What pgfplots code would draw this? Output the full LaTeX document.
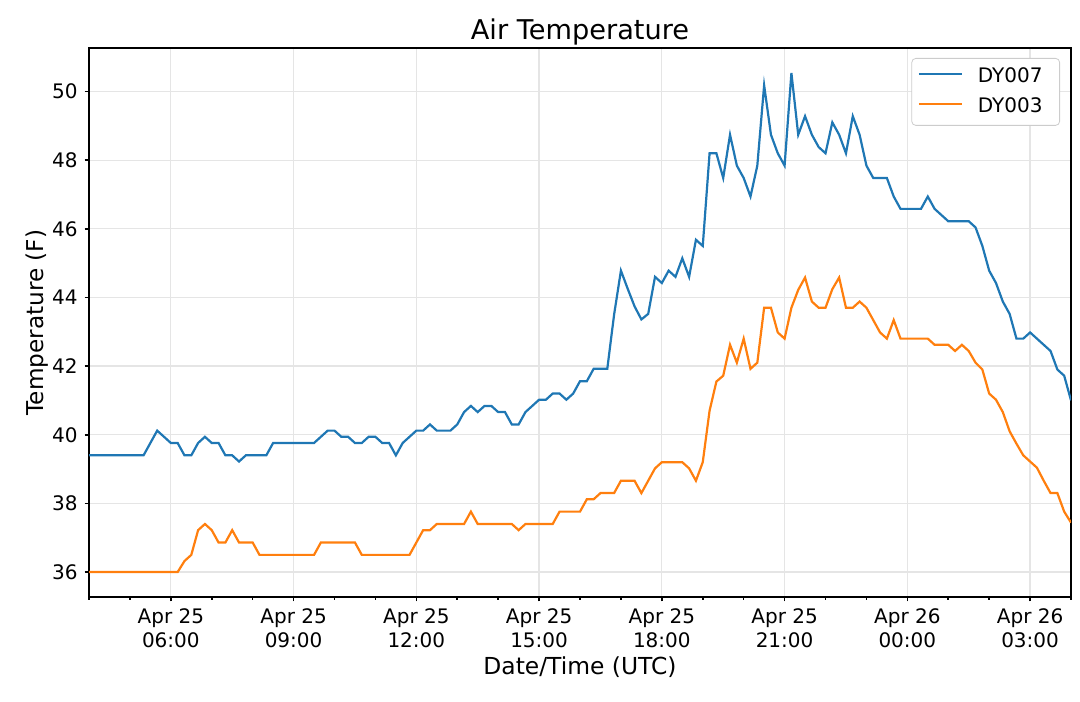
\documentclass[border=0pt]{standalone}
\usepackage{pgfplots}
\usepackage{pgfplotstable}
\pgfplotsset{compat=1.18}
\usepackage{fontspec}
\setmainfont{DejaVu Sans}
\definecolor{tabblue}{RGB}{31,119,180}
\definecolor{taborange}{RGB}{255,127,14}
\pgfplotstableread{
i dyseven dythree
0 39.40 36.00
1 39.40 36.00
2 39.40 36.00
3 39.40 36.00
4 39.40 36.00
5 39.40 36.00
6 39.40 36.00
7 39.40 36.00
8 39.40 36.00
9 39.76 36.00
10 40.12 36.00
11 39.94 36.00
12 39.76 36.00
13 39.76 36.00
14 39.40 36.32
15 39.40 36.50
16 39.76 37.22
17 39.94 37.40
18 39.76 37.22
19 39.76 36.86
20 39.40 36.86
21 39.40 37.22
22 39.22 36.86
23 39.40 36.86
24 39.40 36.86
25 39.40 36.50
26 39.40 36.50
27 39.76 36.50
28 39.76 36.50
29 39.76 36.50
30 39.76 36.50
31 39.76 36.50
32 39.76 36.50
33 39.76 36.50
34 39.94 36.86
35 40.12 36.86
36 40.12 36.86
37 39.94 36.86
38 39.94 36.86
39 39.76 36.86
40 39.76 36.50
41 39.94 36.50
42 39.94 36.50
43 39.76 36.50
44 39.76 36.50
45 39.40 36.50
46 39.76 36.50
47 39.94 36.50
48 40.12 36.86
49 40.12 37.22
50 40.30 37.22
51 40.12 37.40
52 40.12 37.40
53 40.12 37.40
54 40.30 37.40
55 40.66 37.40
56 40.84 37.76
57 40.66 37.40
58 40.84 37.40
59 40.84 37.40
60 40.66 37.40
61 40.66 37.40
62 40.30 37.40
63 40.30 37.22
64 40.66 37.40
65 40.84 37.40
66 41.02 37.40
67 41.02 37.40
68 41.20 37.40
69 41.20 37.76
70 41.02 37.76
71 41.20 37.76
72 41.56 37.76
73 41.56 38.12
74 41.92 38.12
75 41.92 38.30
76 41.92 38.30
77 43.50 38.30
78 44.78 38.66
79 44.25 38.66
80 43.74 38.66
81 43.36 38.30
82 43.52 38.66
83 44.60 39.02
84 44.42 39.20
85 44.78 39.20
86 44.60 39.20
87 45.14 39.20
88 44.60 39.02
89 45.68 38.66
90 45.50 39.20
91 48.20 40.70
92 48.20 41.55
93 47.48 41.72
94 48.74 42.62
95 47.84 42.10
96 47.48 42.80
97 46.94 41.92
98 47.84 42.10
99 50.18 43.70
100 48.74 43.70
101 48.20 42.98
102 47.84 42.80
103 50.54 43.70
104 48.74 44.22
105 49.28 44.58
106 48.74 43.88
107 48.38 43.70
108 48.20 43.70
109 49.10 44.24
110 48.74 44.58
111 48.20 43.70
112 49.28 43.70
113 48.74 43.88
114 47.84 43.70
115 47.48 43.34
116 47.48 42.98
117 47.48 42.80
118 46.94 43.34
119 46.58 42.80
120 46.58 42.80
121 46.58 42.80
122 46.58 42.80
123 46.94 42.80
124 46.58 42.62
125 46.40 42.62
126 46.22 42.62
127 46.22 42.44
128 46.22 42.62
129 46.22 42.44
130 46.04 42.10
131 45.50 41.90
132 44.78 41.20
133 44.42 41.02
134 43.88 40.66
135 43.52 40.10
136 42.80 39.74
137 42.80 39.40
138 42.98 39.22
139 42.80 39.04
140 42.62 38.66
141 42.44 38.30
142 41.90 38.30
143 41.72 37.76
144 41.00 37.44
}\airtemp
\begin{document}
\begin{tikzpicture}
\path (-44.5pt,-52pt) rectangle (495.5pt,298.5pt);
\begin{axis}[
  name=ax, at={(0,0)}, anchor=south west,
  scale only axis, width=491pt, height=274.5pt,
  xmin=0, xmax=144, ymin=35.273, ymax=51.267,
  xtick={12,30,48,66,84,102,120,138},
  xticklabels={{Apr 25\\06:00},{Apr 25\\09:00},{Apr 25\\12:00},{Apr 25\\15:00},{Apr 25\\18:00},{Apr 25\\21:00},{Apr 26\\00:00},{Apr 26\\03:00}},
  minor xtick={0,6,18,24,36,42,54,60,72,78,90,96,108,114,126,132,144},
  ytick={36,38,...,50},
  xtick pos=left, ytick pos=left,
  tick align=outside,
  major tick length=2.2pt, minor tick length=1.3pt,
  tick style={black, line width=0.8pt},
  axis line style={line width=0.8pt},
  grid=major,
  major grid style={color=black!10, line width=0.6pt},
  tick label style={font=\fontsize{10}{12}\selectfont},
  xticklabel style={align=center},
  /pgf/number format/assume math mode=true,
  legend style={at={(1,1)}, anchor=north east, xshift=-5.5pt, yshift=-5pt,
    draw=black!20, rounded corners=2pt, font=\fontsize{10}{12}\selectfont,
    inner xsep=3pt, inner ysep=4.85pt, row sep=6.2pt,
    nodes={inner sep=0pt, text height=7.3pt, text depth=1.5pt}},
  legend cell align=left,
  legend image code/.code={\draw[#1, sharp corners] (0pt,1.3pt) -- (21.5pt,1.3pt); \path[draw=none,fill=none] (29.5pt,1.3pt);},
]
\addplot[tabblue, line width=1.1pt] table[x=i, y=dyseven] {\airtemp};
\addlegendentry{DY007\kern5.5pt}
\addplot[taborange, line width=1.1pt] table[x=i, y=dythree] {\airtemp};
\addlegendentry{DY003\kern5.5pt}
\end{axis}
\node[anchor=base, font=\fontsize{13.6}{16}\selectfont] at ([yshift=4pt]ax.north) {Air Temperature};
\node[anchor=base, font=\fontsize{11.7}{14}\selectfont] at ([yshift=-38.5pt]ax.south) {Date/Time (UTC)};
\node[anchor=base, rotate=90, font=\fontsize{11.6}{14}\selectfont] at ([xshift=-23pt]ax.west) {Temperature (F)};
\end{tikzpicture}
\end{document}
